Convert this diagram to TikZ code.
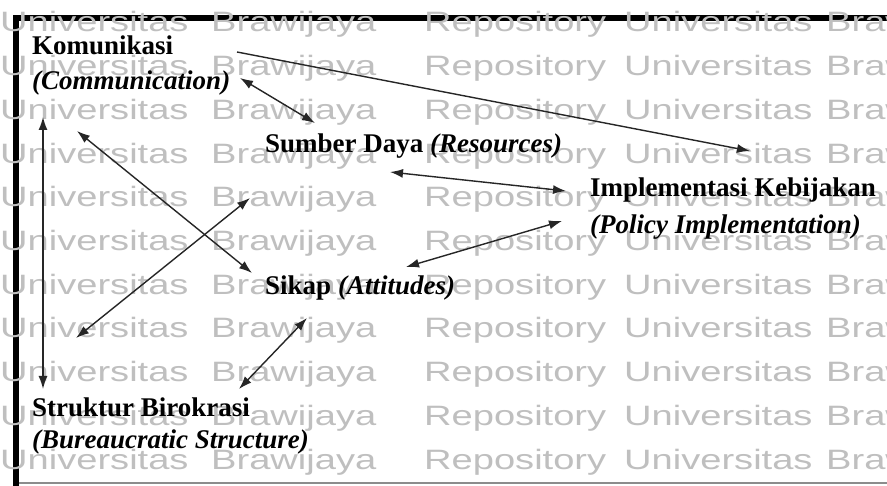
\documentclass[tikz,border=0pt]{standalone}
\usepackage{fontspec}
\setmainfont{Liberation Serif}
\newfontfamily\wmfont{Liberation Sans}
\usetikzlibrary{arrows.meta}

% wide watermark lettering
\newcommand\wmword[1]{\scalebox{1.36}[1]{#1}}

\tikzset{
  lbl/.style={anchor=base west, inner sep=0pt, text=black,
    font=\fontsize{27}{30}\selectfont\bfseries},
  wm/.style={anchor=base west, inner sep=0pt, text=black!25,
    font=\wmfont\fontsize{28}{30}\selectfont},
  link/.style={draw=black!85, line width=1.4pt},
  twoway/.style={link, {Latex[length=13pt,width=9pt]}-{Latex[length=13pt,width=9pt]}},
  oneway/.style={link, -{Latex[length=13pt,width=9pt]}},
}

\begin{document}
\begin{tikzpicture}[x=1pt,y=-1pt]
\useasboundingbox (0,0) rectangle (887,486);
\fill[white] (0,0) rectangle (887,486);

% frame
\fill[black] (13,15) rectangle (887,21);
\fill[black] (13,15) rectangle (19,486);
\draw[black!45, line width=1.2pt] (19,483) -- (887,483);

% background watermark rows
\begin{scope}
\clip (0,0) rectangle (887,486);
\foreach \k in {0,...,10}{
  \pgfmathsetmacro\yb{32+43.7*\k}
  \node[wm] (wa\k) at (0,\yb)   {\wmword{Universitas}};
  \node[wm] (wb\k) at (211,\yb) {\wmword{Brawijaya}};
  \node[wm] (wc\k) at (424,\yb) {\wmword{Repository}};
  \node[wm] (wd\k) at (624,\yb) {\wmword{Universitas}};
  \node[wm] (we\k) at (826,\yb) {\wmword{Brawijaya}};
}
\end{scope}

% labels
\node[lbl] (kom)  at (32,55)  {Komunikasi};
\node[lbl] (komE) at (32,90)  {\itshape(Communication)};
\node[lbl] (sd)   at (265,153) {Sumber Daya \itshape(Resources)};
\node[lbl] (imp)  at (590,197) {Implementasi Kebijakan};
\node[lbl] (impE) at (590,234) {\itshape(Policy Implementation)};
\node[lbl] (sik)  at (265,295) {Sikap \itshape(Attitudes)};
\node[lbl] (str)  at (32,417) {Struktur Birokrasi};
\node[lbl] (strE) at (32,449) {\itshape(Bureaucratic Structure)};

% connector end points
\coordinate (k1) at (237,52);  \coordinate (i1) at (750,151);
\coordinate (k2) at (240,78);  \coordinate (s2) at (315,123);
\coordinate (s3) at (390,172); \coordinate (i3) at (566,191);
\coordinate (a4) at (406,267); \coordinate (i4) at (562,221);
\coordinate (k5) at (43,117);  \coordinate (b5) at (43,389);
\coordinate (k6) at (77,131);  \coordinate (a6) at (252,273);
\coordinate (b7) at (76,338);  \coordinate (s7) at (250,198);
\coordinate (a8) at (307,318); \coordinate (b8) at (239,389);

% connectors
\draw[oneway] (k1) -- (i1);
\draw[twoway] (k2) -- (s2);
\draw[twoway] (s3) -- (i3);
\draw[twoway] (a4) -- (i4);
\draw[twoway] (k5) -- (b5);
\draw[twoway] (k6) -- (a6);
\draw[twoway] (b7) -- (s7);
\draw[twoway] (a8) -- (b8);
\end{tikzpicture}
\end{document}
